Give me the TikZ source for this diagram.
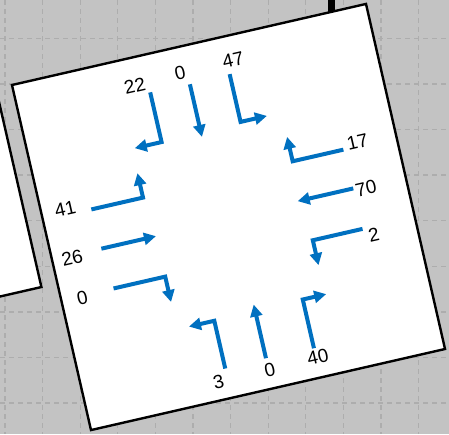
\documentclass[tikz,border=0pt]{standalone}
\usepackage{fontspec}
\setmainfont{Liberation Sans}
\usetikzlibrary{arrows.meta}
\definecolor{flowBlue}{HTML}{0070C0}
\definecolor{canvasGray}{HTML}{C3C3C3}
\definecolor{gridGray}{HTML}{ADADAD}

\begin{document}
\begin{tikzpicture}[x=1pt,y=1pt,
  count/.style={font=\fontsize{19}{21}\selectfont,inner sep=0pt,transform shape},
  flow/.style={-{Triangle[length=12pt,width=12pt]},line width=4pt,flowBlue},
  card/.style={draw=black,line width=2.4pt,fill=white},
  gridline/.style={gridGray,line width=1.3pt,dash pattern=on 4.5pt off 4.5pt}
]
\useasboundingbox (0,0) rectangle (449,-434);
\fill[canvasGray] (0,0) rectangle (449,-434);
\begin{scope}
  \clip (0,0) rectangle (449,-434);
  \foreach \gx in {0,...,11}
    \draw[gridline] ({5+37.6*\gx},0) -- ({5+37.6*\gx},-434);
  \foreach \gy in {0,...,8}
    \draw[gridline] (0,{-38.3-45.6*\gy}) -- (449,{-38.3-45.6*\gy});
  % neighbouring card, mostly off the page
  \begin{scope}[shift={(228.5,-217)},rotate=12.9]
    \draw[card] (-561,-26.5) rectangle (-198,330);
  \end{scope}
  % stub above the card
  \draw[line width=7pt] (331.5,0) -- (331.5,-16);
\end{scope}

% intersection card
\begin{scope}[shift={(228.5,-217)},rotate=12.9]
  \draw[card] (-181.6,-177) rectangle (181.6,177);

  % southbound
  \node[count] (sR) at (-62,149) {22};
  \node[count] (sT) at (-15,151) {0};
  \node[count] (sL) at (39.5,152) {47};
  \draw[flow] (-48.5,139) |- (-76,88);
  \draw[flow] (-8,138) -- (-8,84);
  \draw[flow] (33,139) |- (60,90);

  % westbound
  \node[count] (wR) at (142.5,44.3) {17};
  \node[count] (wT) at (140.4,-2.7) {70};
  \node[count] (wL) at (137.7,-49.5) {2};
  \draw[flow] (127,40) -| (75,65);
  \draw[flow] (128,0) -- (71,0);
  \draw[flow] (128,-41.5) -| (77,-67);

  % northbound
  \node[count] (nL) at (-46.6,-158.6) {3};
  \node[count] (nT) at (6.1,-157.9) {0};
  \node[count] (nR) at (55.8,-156.4) {40};
  \draw[flow] (-37,-147) |- (-63,-98);
  \draw[flow] (5,-146) -- (5,-91);
  \draw[flow] (54,-147) |- (78,-97);

  % eastbound
  \node[count] (eL) at (-157.5,44.1) {41};
  \node[count] (eT) at (-161.6,-5.1) {26};
  \node[count] (eR) at (-160.7,-46.3) {0};
  \draw[flow] (-132,38) -| (-79,63);
  \draw[flow] (-131,-2.5) -- (-75,-2.5);
  \draw[flow] (-128,-44) -| (-75,-70);
\end{scope}
\end{tikzpicture}
\end{document}
